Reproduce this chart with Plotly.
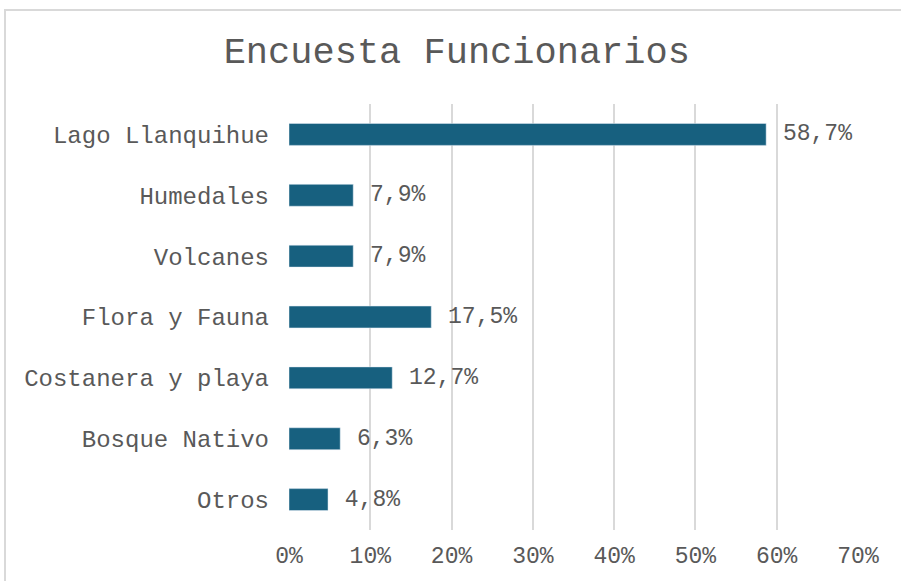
import plotly.graph_objects as go

categories = ["Lago Llanquihue", "Humedales", "Volcanes", "Flora y Fauna",
              "Costanera y playa", "Bosque Nativo", "Otros"]
values = [0.587, 0.079, 0.079, 0.175, 0.127, 0.063, 0.048]
tick_vals = [0, 0.1, 0.2, 0.3, 0.4, 0.5, 0.6, 0.7]

FONT = "Liberation Mono, Courier New, monospace"
GRAY = "#595959"

fig = go.Figure(go.Bar(
    x=values, y=categories, orientation="h",
    marker=dict(color="#17607F"),
    texttemplate="\u00a0%{x:.1%}", textposition="outside",
    constraintext="none",
    textfont=dict(family=FONT, size=23, color=GRAY),
    cliponaxis=False,
))

L, R, T, B = 289, 43, 104, 51
W, H = 901, 581
pw, ph = W - L - R, H - T - B

fig.update_layout(
    width=W, height=H,
    margin=dict(l=L, r=R, t=T, b=B, autoexpand=False),
    paper_bgcolor="white", plot_bgcolor="white",
    separators=",.",
    bargap=0.64,
    showlegend=False,
    font=dict(family=FONT, color=GRAY, size=24),
    title=dict(text="Encuesta Funcionarios", x=0.507, xanchor="center",
               y=1 - 50 / H, yanchor="middle",
               font=dict(family=FONT, size=37, color=GRAY)),
    xaxis=dict(range=[0, 0.7], tickvals=tick_vals, tickformat=".0%",
               showgrid=True, gridcolor="#D9D9D9", gridwidth=2,
               zeroline=False, showline=False, ticks="",
               automargin=False, ticklabelstandoff=9,
               tickfont=dict(family=FONT, size=23, color=GRAY)),
    yaxis=dict(categoryorder="array", categoryarray=categories,
               autorange="reversed", showgrid=False, zeroline=False,
               ticks="", ticklabelstandoff=19, automargin=False,
               tickfont=dict(family=FONT, size=24, color=GRAY)),
    shapes=[dict(type="rect", xref="paper", yref="paper",
                 x0=(5 - L) / pw, x1=(W + 20 - L) / pw,
                 y0=(H - B - (H + 20)) / ph, y1=(H - B - 10) / ph,
                 line=dict(color="#D9D9D9", width=2), layer="below")],
)

fig.write_html("out.html",
               config={"displayModeBar": False},
               post_script="document.body.style.margin='0';")
